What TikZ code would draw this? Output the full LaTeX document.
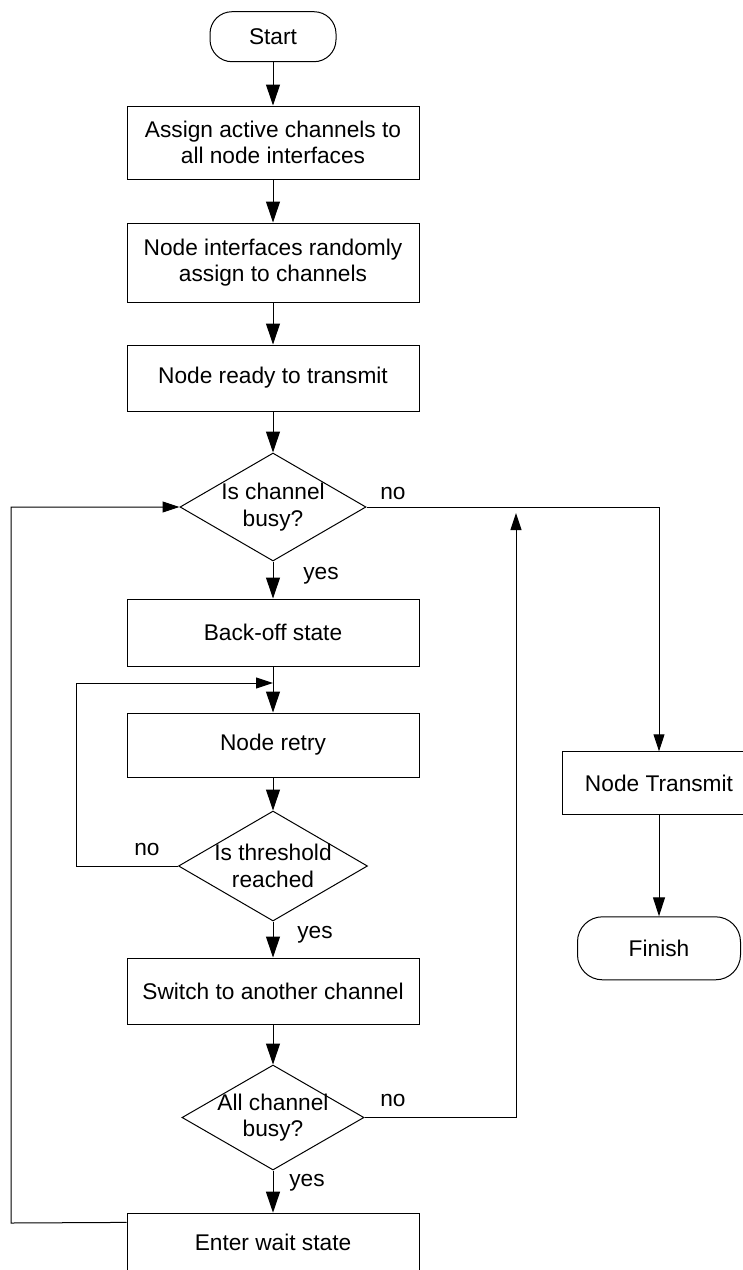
\documentclass[tikz,border=0pt]{standalone}
\usepackage{fontspec}
\setmainfont{Liberation Sans}
\usetikzlibrary{shapes.geometric,arrows.meta,calc}
\begin{document}
\begin{tikzpicture}[x=1pt,y=-1pt,
  every node/.style={font=\fontsize{22.7}{26.5}\selectfont, inner sep=0pt, align=center},
  procbox/.style={draw, line width=1pt, rectangle, minimum width=292pt},
  termbox/.style={draw, line width=1pt, rectangle, rounded corners=22pt},
  decbox/.style={draw, line width=1pt, diamond},
  conn/.style={line width=1pt},
  arr/.style={conn, -{Triangle[length=21pt,width=14pt]}},
  marr/.style={conn, -{Triangle[length=19pt,width=12pt]}},
  sarr/.style={conn, -{Triangle[length=17pt,width=11pt]}},
  lbl/.style={anchor=base}
]
\useasboundingbox (0,0) rectangle (743,1270);
\clip (0,0) rectangle (743,1270);

% main column
\node[termbox, minimum width=126pt, minimum height=50pt] (start) at (273,36.7) {Start};
\node[procbox, minimum height=73pt] (b1) at (273,142.5) {Assign active channels to\\all node interfaces};
\node[procbox, minimum height=79pt] (b2) at (273,262.5) {Node interfaces randomly\\assign to channels};
\node[procbox, minimum height=66pt] (b3) at (273,378) {Node ready to transmit};
\node[decbox, minimum width=186pt, minimum height=108pt] (d1) at (273,507) {};
\node (d1t) at (273,507) {Is channel\\busy?};
\node[procbox, minimum height=67pt] (bo) at (273,632.5) {Back-off state};
\node[procbox, minimum height=64pt] (retry) at (273,745) {Node retry};
\node[decbox, minimum width=189pt, minimum height=110pt] (d2) at (273,866) {};
\node (d2t) at (273,866) {Is threshold\\reached};
\node[procbox, minimum height=66pt] (sw) at (273,991) {Switch to another channel};
\node[decbox, minimum width=182pt, minimum height=105pt] (d3) at (273,1117.5) {};
\node (d3t) at (273,1117.5) {All channel\\busy?};
\node[procbox, minimum height=59pt] (wait) at (273,1242.7) {Enter wait state};

% right column
\node[procbox, minimum width=194pt, minimum height=63pt] (nt) at (659,783.3) {Node Transmit};
\node[termbox, minimum width=163pt, minimum height=63pt, rounded corners=25pt] (fin) at (659,948.3) {Finish};

% connectors
\draw[arr] (start) -- (b1);
\draw[arr] (b1) -- (b2);
\draw[arr] (b2) -- (b3);
\draw[arr] (b3) -- (d1);
\draw[arr] (d1) -- (bo);
\draw[arr] (bo) -- (retry);
\draw[arr] (retry) -- (d2);
\draw[arr] (d2) -- (sw);
\draw[arr] (sw) -- (d3);
\draw[arr] (d3) -- (wait);
\draw[sarr] (d1.east) -| (nt.north);
\draw[marr] (nt) -- (fin);

\coordinate (upend) at (516,513);
\draw[sarr] (d3.east) -| (upend);

\coordinate (rj) at (273,683);
\coordinate (rl) at (76,866);
\draw[sarr] (d2.west) -- (rl) |- (rj);

\coordinate (wo) at ($(wait.north west)+(0,9.7)$);
\coordinate (lb) at (11,1223);
\draw[sarr] (wo) -- (lb) |- (d1.west);

% labels
\node[lbl] (n1) at (393,499) {no};
\node[lbl] (y1) at (321,579) {yes};
\node[lbl] (n2) at (147,855) {no};
\node[lbl] (y2) at (315,938) {yes};
\node[lbl] (n3) at (393,1106) {no};
\node[lbl] (y3) at (307,1186) {yes};
\end{tikzpicture}
\end{document}
